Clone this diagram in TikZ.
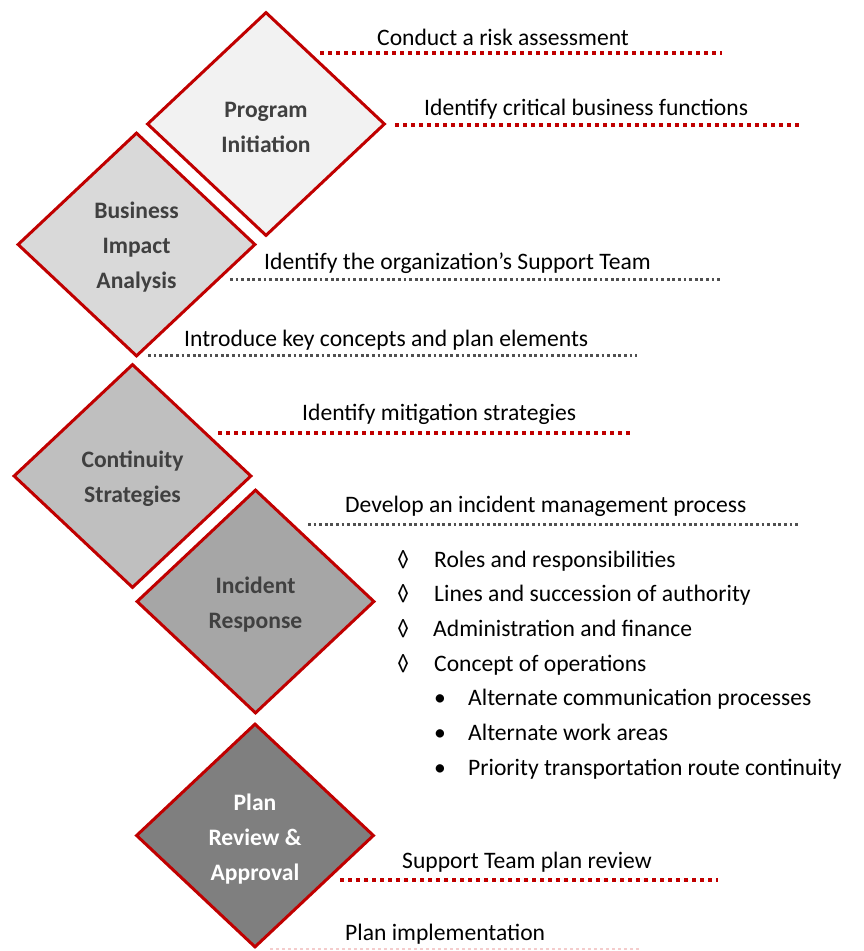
\documentclass[tikz,border=0pt]{standalone}
\usepackage{fontspec}
\setmainfont{Carlito}
\usetikzlibrary{shapes.geometric}
\definecolor{dred}{HTML}{C00000}
\definecolor{dgray}{HTML}{505050}
\definecolor{headgray}{HTML}{404040}
\definecolor{fillA}{HTML}{F2F2F2}
\definecolor{fillB}{HTML}{D9D9D9}
\definecolor{fillC}{HTML}{BFBFBF}
\definecolor{fillD}{HTML}{A6A6A6}
\definecolor{fillE}{HTML}{7F7F7F}
\definecolor{pinkline}{HTML}{F4CCCC}
\tikzset{
  phase/.style={diamond, draw=dred, line width=3pt, minimum width=238pt, minimum height=224pt,
    inner sep=0pt},
  phasetext/.style={align=center, inner sep=0pt, yshift=-3pt, text=headgray,
    font=\fontsize{23.6}{35}\selectfont\bfseries},
  item/.style={anchor=base west, inner sep=0pt, font=\fontsize{23.6}{28}\selectfont, text=black},
  reddots/.style={draw=dred, line width=3.2pt, dash pattern=on 3.5pt off 4.5pt},
  graydots/.style={draw=dgray, line width=3pt, dash pattern=on 2.8pt off 2.8pt},
  pinkdots/.style={draw=pinkline, line width=2.4pt, dash pattern=on 3pt off 3pt},
}
\begin{document}
\begin{tikzpicture}[x=1pt,y=-1pt]
\useasboundingbox (0,0) rectangle (864,951);
% diamonds
\node[phase, fill=fillA] (pi) at (266,124) {};
\node[phase, fill=fillB] (bia) at (136.5,244.5) {};
\node[phase, fill=fillC] (cs) at (132.5,476) {};
\node[phase, fill=fillD] (ir) at (255.5,601.5) {};
\node[phase, fill=fillE] (pra) at (255,835.5) {};
\node[phasetext] (pit) at (pi.center) {Program\\Initiation};
\node[phasetext] (biat) at (bia.center) {Business\\Impact\\Analysis};
\node[phasetext] (cst) at (cs.center) {Continuity\\Strategies};
\node[phasetext] (irt) at (ir.center) {Incident\\Response};
\node[phasetext, text=white, yshift=-1pt] (prat) at (pra.center) {Plan\\Review \&\\Approval};
% dotted lines
\coordinate (l1a) at (320,53);  \coordinate (l1b) at (722,53);
\coordinate (l2a) at (395,125); \coordinate (l2b) at (800,125);
\coordinate (l3a) at (230,279); \coordinate (l3b) at (720,279);
\coordinate (l4a) at (148,355); \coordinate (l4b) at (637,355);
\coordinate (l5a) at (218,433); \coordinate (l5b) at (634,433);
\coordinate (l6a) at (308,524); \coordinate (l6b) at (798,524);
\coordinate (l7a) at (340,880); \coordinate (l7b) at (718,880);
\coordinate (l8a) at (270,949); \coordinate (l8b) at (640,949);
\draw[reddots] (l1a) -- (l1b);
\draw[reddots] (l2a) -- (l2b);
\draw[graydots] (l3a) -- (l3b);
\draw[graydots] (l4a) -- (l4b);
\draw[reddots] (l5a) -- (l5b);
\draw[graydots] (l6a) -- (l6b);
\draw[reddots] (l7a) -- (l7b);
\draw[pinkdots] (l8a) -- (l8b);
% texts
\node[item] (t1) at (377,45) {Conduct a risk assessment};
\node[item] (t2) at (424,115) {Identify critical business functions};
\node[item] (t3) at (264,269) {Identify the organization’s Support Team};
\node[item] (t4) at (184,346) {Introduce key concepts and plan elements};
\node[item] (t5) at (302,420) {Identify mitigation strategies};
\node[item] (t6) at (345,512) {Develop an incident management process};
\node[item] (b1m) at (397,567) {◊};
\node[item] (b1) at (434,567) {Roles and responsibilities};
\node[item] (b2m) at (397,601.7) {◊};
\node[item] (b2) at (434,601.7) {Lines and succession of authority};
\node[item] (b3m) at (397,636.4) {◊};
\node[item] (b3) at (433,636.4) {Administration and finance};
\node[item] (b4m) at (397,671) {◊};
\node[item] (b4) at (434,671) {Concept of operations};
\node[item] (s1m) at (434,705.8) {•};
\node[item] (s1) at (468,705.8) {Alternate communication processes};
\node[item] (s2m) at (434,740.5) {•};
\node[item] (s2) at (468,740.5) {Alternate work areas};
\node[item] (s3m) at (434,775.2) {•};
\node[item] (s3) at (468,775.2) {Priority transportation route continuity};
\node[item] (t7) at (402,868) {Support Team plan review};
\node[item] (t8) at (345,940) {Plan implementation};
\end{tikzpicture}
\end{document}
